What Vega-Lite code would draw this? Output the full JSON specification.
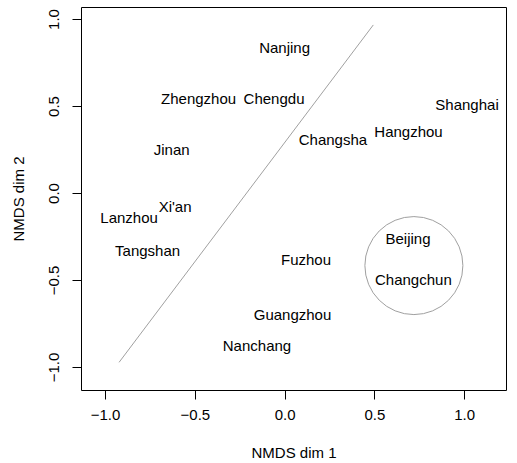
{
  "$schema": "https://vega.github.io/schema/vega-lite/v6.json",
  "width": 425,
  "height": 383,
  "autosize": {"type": "none"},
  "padding": {"left": 81, "top": 7, "right": 11, "bottom": 73},
  "background": "white",
  "config": {
    "view": {"stroke": "black", "strokeWidth": 1},
    "font": "Liberation Sans",
    "axis": {
      "grid": false,
      "domain": false,
      "tickColor": "black",
      "tickSize": 9,
      "labelColor": "black",
      "titleColor": "black",
      "labelFont": "Liberation Sans",
      "titleFont": "Liberation Sans",
      "labelFontSize": 15,
      "titleFontSize": 15,
      "titleFontWeight": "normal"
    }
  },
  "datasets": {
    "cities": [
      {"city": "Nanjing", "dim1": 0.0, "dim2": 0.833},
      {"city": "Zhengzhou", "dim1": -0.479, "dim2": 0.54},
      {"city": "Chengdu", "dim1": -0.059, "dim2": 0.54},
      {"city": "Shanghai", "dim1": 1.016, "dim2": 0.506},
      {"city": "Hangzhou", "dim1": 0.69, "dim2": 0.351},
      {"city": "Changsha", "dim1": 0.269, "dim2": 0.305},
      {"city": "Jinan", "dim1": -0.629, "dim2": 0.247},
      {"city": "Lanzhou", "dim1": -0.866, "dim2": -0.144},
      {"city": "Xi'an", "dim1": -0.61, "dim2": -0.08},
      {"city": "Tangshan", "dim1": -0.763, "dim2": -0.333},
      {"city": "Fuzhou", "dim1": 0.119, "dim2": -0.385},
      {"city": "Guangzhou", "dim1": 0.044, "dim2": -0.701},
      {"city": "Nanchang", "dim1": -0.154, "dim2": -0.879},
      {"city": "Beijing", "dim1": 0.687, "dim2": -0.264},
      {"city": "Changchun", "dim1": 0.717, "dim2": -0.5}
    ],
    "divider": [
      {"x1": -0.922, "y1": -0.973, "x2": 0.494, "y2": 0.966}
    ],
    "cluster": [
      {"cx": 0.72, "cy": -0.417}
    ]
  },
  "layer": [
    {
      "data": {"name": "divider"},
      "mark": {"type": "rule", "color": "#a0a0a0", "strokeWidth": 1},
      "encoding": {
        "x": {"field": "x1", "type": "quantitative",
              "scale": {"domain": [-1.134, 1.233], "nice": false, "zero": false},
              "axis": {"values": [-1, -0.5, 0, 0.5, 1], "format": ".1f", "title": "NMDS dim 1",
                       "labelPadding": 8, "titleX": 212.5, "titleY": 62, "titleBaseline": "middle"}},
        "y": {"field": "y1", "type": "quantitative",
              "scale": {"domain": [-1.132, 1.069], "nice": false, "zero": false},
              "axis": {"values": [-1, -0.5, 0, 0.5, 1], "format": ".1f", "title": "NMDS dim 2",
                       "labelAngle": -90, "labelAlign": "center", "labelBaseline": "alphabetic", "labelPadding": 14,
                       "titleAngle": -90, "titleX": -63, "titleY": 191.5, "titleBaseline": "middle", "titleAlign": "center"}},
        "x2": {"field": "x2"},
        "y2": {"field": "y2"}
      }
    },
    {
      "data": {"name": "cluster"},
      "mark": {"type": "point", "shape": "circle", "filled": false, "color": "#a0a0a0", "strokeWidth": 1, "size": 9604, "opacity": 1},
      "encoding": {
        "x": {"field": "cx", "type": "quantitative"},
        "y": {"field": "cy", "type": "quantitative"}
      }
    },
    {
      "data": {"name": "cities"},
      "mark": {"type": "text", "fontSize": 15, "font": "Liberation Sans", "color": "black", "align": "center", "baseline": "middle"},
      "encoding": {
        "x": {"field": "dim1", "type": "quantitative"},
        "y": {"field": "dim2", "type": "quantitative"},
        "text": {"field": "city", "type": "nominal"}
      }
    }
  ]
}
